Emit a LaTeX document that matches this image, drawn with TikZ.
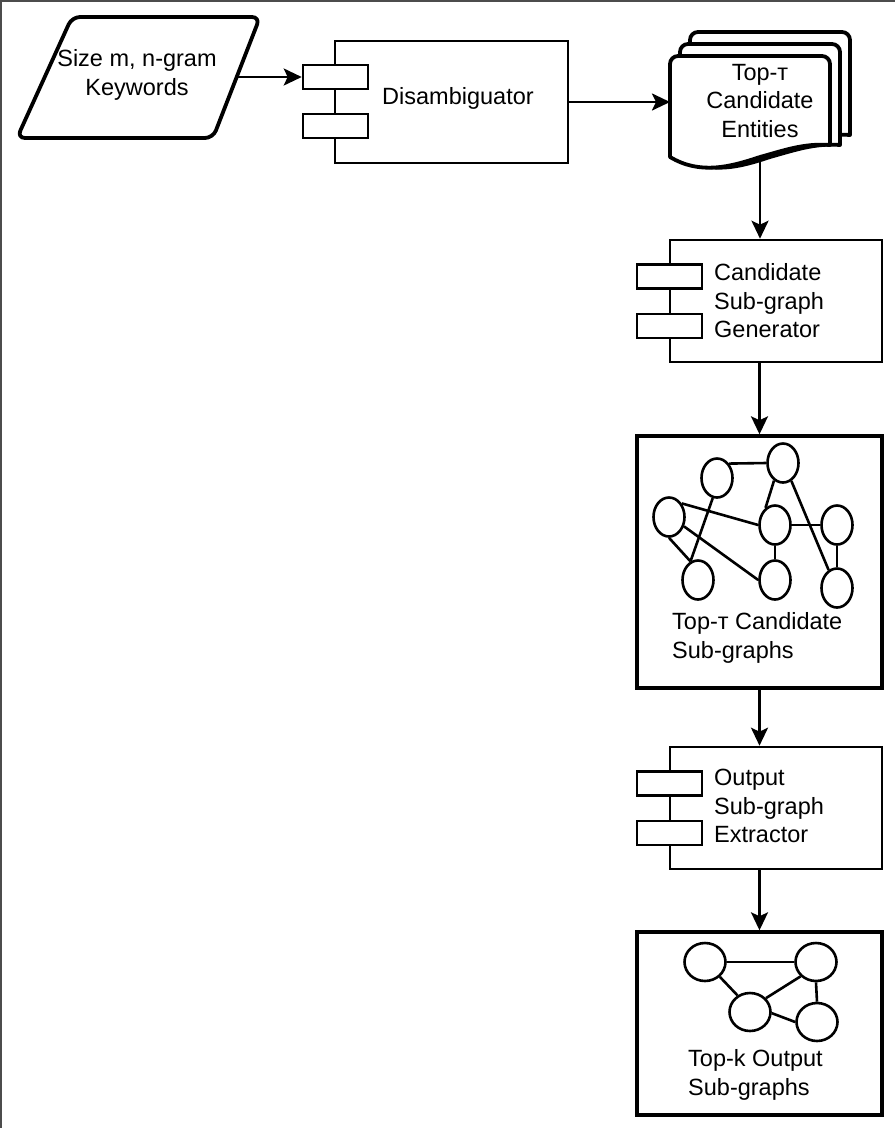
\documentclass[tikz,border=0pt]{standalone}
\usepackage{fontspec}
\setmainfont{Liberation Sans}
\usetikzlibrary{arrows.meta,shapes.geometric}

\tikzset{
  txt/.style={font=\fontsize{23.5}{28.5}\selectfont, inner sep=0pt},
  comp/.style={draw, line width=2.6pt, fill=white, minimum width=233pt, minimum height=122pt, inner sep=0pt},
  port/.style={draw, line width=2.6pt, fill=white, minimum width=65pt, minimum height=24pt, inner sep=0pt},
  gbox/.style={draw, line width=3.4pt, minimum width=245pt, inner sep=0pt},
  vtx/.style={draw, ellipse, line width=2.6pt, minimum width=31pt, minimum height=39pt, inner sep=0pt},
  vtxb/.style={draw, ellipse, line width=2.6pt, minimum width=41pt, minimum height=38pt, inner sep=0pt},
  link/.style={line width=2.6pt},
  flow/.style={line width=2.6pt, -{Stealth[length=18pt, width=17pt, inset=4pt]}},
  sheet/.style={line width=3.8pt, fill=white, line join=round},
}

% one sheet of the stacked document symbol; #3 stretches the bottom down
\newcommand\docsheet[3]{%
  \begin{scope}[shift={(#1,#2)}]
    \draw[sheet] (670,157+#3) [rounded corners=8pt] -- (670,56) -- (830,56)
      [sharp corners] -- (830,145+#3)
      .. controls (805,143+#3) and (785,150+#3) .. (760,157+#3)
      .. controls (730,167+#3) and (700,175+#3) .. (670,157+#3) -- cycle;
  \end{scope}}

\begin{document}
\begin{tikzpicture}[x=1pt, y=-1pt]
  \useasboundingbox (0,0) rectangle (895,1128);
  \draw[gray!60!black, line width=1.5pt] (0.75,1128) -- (0.75,0.75) -- (895,0.75);

  % input keywords (parallelogram)
  \draw[line width=3.8pt, rounded corners=8pt, line join=round]
    (115,138) -- (17,138) -- (72,17) -- (260,17) -- (213,138) -- cycle;
  \node[txt, align=center] (kw) at (137,75) {Size m, n-gram\\Keywords};
  \coordinate (kwR) at (237,77);

  % Disambiguator component
  \node[comp] (dis) at (451.5,102) {};
  \node[port] (disA) at (335.5,77) {};
  \node[port] (disB) at (335.5,126) {};
  \node[txt] (disT) at (458,98) {Disambiguator};

  % stacked candidate entity documents
  \docsheet{20}{-24}{14}
  \docsheet{10}{-12}{12}
  \docsheet{0}{0}{0}
  \node[txt, align=center] (ents) at (760,101) {Top-т\\Candidate\\Entities};
  \coordinate (docL) at (670,102);
  \coordinate (docB) at (760,157);

  % Candidate Sub-graph Generator component
  \node[comp, minimum width=212pt] (gen) at (776,301) {};
  \node[port] (genA) at (669.5,276.5) {};
  \node[port] (genB) at (669.5,326) {};
  \node[txt, align=left, anchor=west] (genT) at (714,301) {Candidate\\Sub-graph\\Generator};

  % candidate sub-graphs box
  \node[gbox, minimum height=252pt] (box1) at (759.5,562) {};
  \node[vtx] (g1) at (717,478) {};
  \node[vtx] (g2) at (783,463) {};
  \node[vtx] (g3) at (669,517) {};
  \node[vtx] (g4) at (775,525) {};
  \node[vtx] (g5) at (837,525) {};
  \node[vtx] (g6) at (698,580) {};
  \node[vtx] (g7) at (775,580) {};
  \node[vtx] (g8) at (837,588) {};
  \draw[link] (g1.50) -- (g2.west);
  \draw[link] (g3.47) -- (g4.west);
  \draw[link] (g3.-32) -- (g7.west);
  \draw[link] (g3.south) -- (g6.112);
  \draw[link] (g1.-102) -- (g6.112);
  \draw[link] (g2.-117) -- (g4.119);
  \draw[link] (g2.-65) -- (g8.115);
  \draw[link] (g4.east) -- (g5.west);
  \draw[link] (g4.south) -- (g7.north);
  \draw[link] (g5.south) -- (g8.north);
  \node[txt, align=left, anchor=west] (box1T) at (672,638) {Top-т Candidate\\Sub-graphs};

  % Output Sub-graph Extractor component
  \node[comp, minimum width=212pt] (ext) at (776,808) {};
  \node[port] (extA) at (669.5,783.5) {};
  \node[port] (extB) at (669.5,833) {};
  \node[txt, align=left, anchor=west] (extT) at (714,806) {Output\\Sub-graph\\Extractor};

  % output sub-graphs box
  \node[gbox, minimum height=183pt] (box2) at (759.5,1023.5) {};
  \node[vtxb] (h1) at (705,962) {};
  \node[vtxb] (h2) at (816,962) {};
  \node[vtxb] (h3) at (750,1012) {};
  \node[vtxb] (h4) at (817,1022) {};
  \draw[link] (h1.east) -- (h2.west);
  \draw[link] (h1.-45) -- (h3.127);
  \draw[link] (h2.-137) -- (h3.41);
  \draw[link] (h2.south) -- (h4.north);
  \draw[link] (h3.-3) -- (h4.west);
  \node[txt, align=left, anchor=west] (box2T) at (688,1075) {Top-k Output\\Sub-graphs};

  % flow arrows
  \draw[flow] (kwR) -- (disA.west);
  \draw[flow] (dis.east |- docL) -- (docL);
  \draw[flow] (docB) -- (docB |- gen.north);
  \draw[flow] (box1.north |- gen.south) -- (box1.north);
  \draw[flow] (box1.south) -- (box1.south |- ext.north);
  \draw[flow] (box2.north |- ext.south) -- (box2.north);
\end{tikzpicture}
\end{document}
